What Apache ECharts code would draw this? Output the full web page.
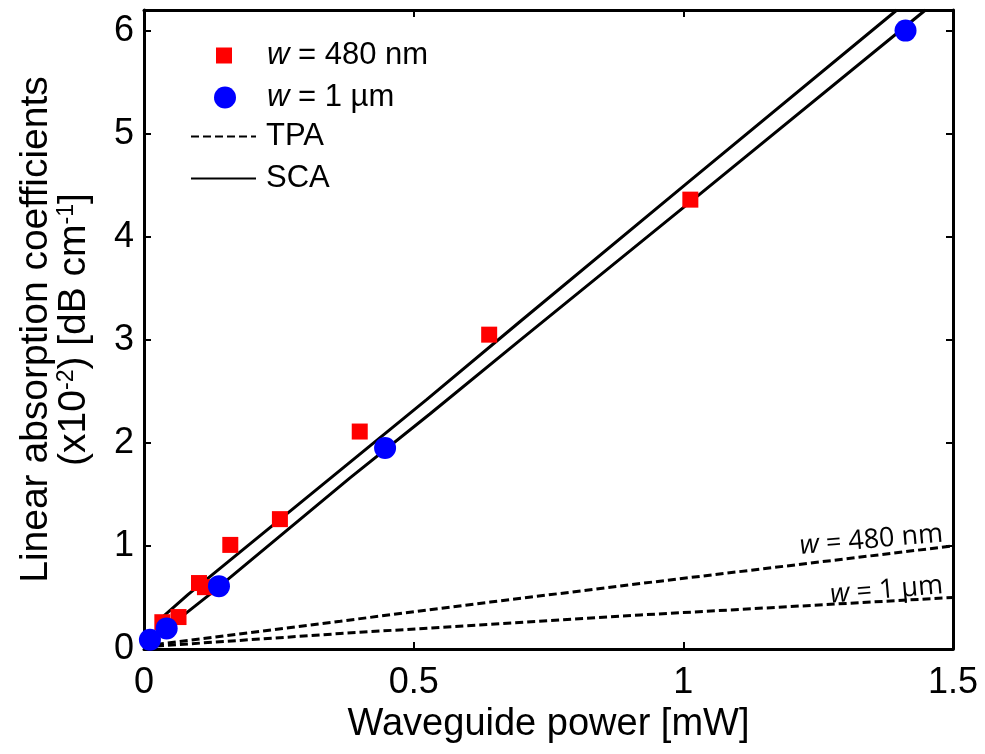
<!DOCTYPE html>
<html><head><meta charset="utf-8">
<script src="https://cdn.jsdelivr.net/npm/echarts@6/dist/echarts.min.js"></script>
<style>html,body{margin:0;padding:0;background:#fff}#c{width:985px;height:754px}</style>
</head><body><div id="c"></div>
<script>
// ---- data ----
const xTicks = ['0', '0.5', '1', '1.5'];
const yTicks = ['0', '1', '2', '3', '4', '5', '6'];

// measured points, w = 480 nm (red squares)
const x480 = [0.034, 0.064, 0.102, 0.113, 0.160, 0.252, 0.400, 0.640, 1.013];
const y480 = [0.26, 0.31, 0.64, 0.60, 1.01, 1.26, 2.11, 3.05, 4.36];
// measured points, w = 1 um (blue circles)
const x1um = [0.011, 0.042, 0.139, 0.447, 1.412];
const y1um = [0.09, 0.20, 0.61, 1.95, 6.00];

// SCA fits (solid)
const scaX480 = [0.030, 0.082, 0.351, 0.524, 0.698, 1.007, 1.396];
const scaY480 = [0.29, 0.53, 1.68, 2.42, 3.18, 4.52, 6.20];
const scaX1um = [0.040, 0.122, 0.382, 0.530, 0.698, 1.025, 1.449];
const scaY1um = [0.19, 0.53, 1.66, 2.28, 3.00, 4.39, 6.20];

// TPA (dashed)
const tpaX = [0, 0.364, 0.642, 0.920, 1.500];
const tpaY480 = [0.03, 0.27, 0.455, 0.635, 1.00];
const tpaY1um = [0.02, 0.15, 0.24, 0.33, 0.50];

const FONT = '"Liberation Sans", Arial, Helvetica, sans-serif';
const pairs = (xs, ys) => xs.map((x, i) => [x, ys[i]]);
const last = a => a[a.length - 1];

const axisLine = { show: true, onZero: false, lineStyle: { color: '#000', width: 3 } };
const axisTick = { show: true, inside: true, length: 7, lineStyle: { color: '#000', width: 2 } };

const LF = 31;
const legendRich = {
  i: { fontStyle: 'italic', fontSize: LF, fontFamily: FONT, color: '#000' },
  n: { fontSize: LF, fontFamily: FONT, color: '#000' }
};
const legendNames = {
  w480: '{i|w}{n| = 480 nm}',
  w1um: '{i|w}{n| = 1 µm}',
  TPA: '{n|TPA}',
  SCA: '{n|SCA}'
};
function mkLegend(name, left, top, w, h, pad, hideSymbol) {
  const lg = {
    data: [name], left: left, top: top, itemWidth: w, itemHeight: h,
    padding: 0, selectedMode: false, orient: 'vertical',
    formatter: n => legendNames[n],
    textStyle: { fontSize: LF, lineHeight: 30, fontFamily: FONT, color: '#000', padding: [0, 0, 0, pad], rich: legendRich }
  };
  if (hideSymbol) lg.itemStyle = { opacity: 0 };
  return lg;
}

const labelFont = '"Open Sans", "Noto Sans", sans-serif';
const TL = 27;
function tpaLabel(text, y) {
  return {
    symbol: 'circle', symbolSize: 0, silent: true, animation: false,
    data: [{ coord: [last(tpaX), y] }],
    label: {
      show: true, position: 'left', align: 'right', verticalAlign: 'bottom',
      offset: [-4, 1], rotate: 5,
      formatter: text,
      fontSize: TL, fontFamily: labelFont, color: '#000',
      rich: { i: { fontStyle: 'italic', fontSize: TL, fontFamily: labelFont, color: '#000' },
              n: { fontSize: TL, fontFamily: labelFont, color: '#000' } }
    }
  };
}

const chart = echarts.init(document.getElementById('c'), null, { renderer: 'canvas' });
chart.setOption({
  animation: false,
  backgroundColor: '#fff',
  color: ['#000'],
  grid: { left: 144, right: 32, top: 10, bottom: 105, containLabel: false },
  legend: [
    mkLegend('w480', 216, 40, 16, 16, 30, false),
    mkLegend('w1um', 214, 82, 22, 22, 26, false),
    mkLegend('TPA', 190, 121, 65, 14, 5, true),
    mkLegend('SCA', 190, 163, 65, 14, 5, true)
  ],
  xAxis: [
    {
      type: 'value', min: 0, max: 1.5, interval: 0.5, position: 'bottom',
      axisLine: axisLine, axisTick: axisTick, splitLine: { show: false },
      axisLabel: { fontSize: 36, fontFamily: FONT, color: '#000', margin: 16,
        formatter: v => xTicks[Math.round(v / 0.5)] ?? '' },
      name: 'Waveguide power [mW]', nameLocation: 'middle', nameGap: 54,
      nameTextStyle: { fontSize: 38, fontFamily: FONT, color: '#000' }
    },
    {
      type: 'value', min: 0, max: 1.5, interval: 0.5, position: 'top',
      axisLine: axisLine, axisTick: axisTick, splitLine: { show: false },
      axisLabel: { show: false }
    }
  ],
  yAxis: [
    {
      type: 'value', min: 0, max: 6.2, interval: 1, position: 'left',
      axisLine: axisLine, axisTick: axisTick, splitLine: { show: false },
      axisLabel: { fontSize: 36, fontFamily: FONT, color: '#000', margin: 10, showMaxLabel: false,
        formatter: v => (Number.isInteger(v) ? (yTicks[v] ?? '') : '') },
      name: '{a|Linear absorption coefficients}\n{a|(x10}{s|-2}{a|) [dB cm}{s|-1}{a|]}',
      nameLocation: 'middle', nameGap: 51,
      nameTextStyle: {
        fontSize: 39, fontFamily: FONT, color: '#000', lineHeight: 38,
        rich: {
          a: { fontSize: 39, fontFamily: FONT, color: '#000', lineHeight: 38 },
          s: { fontSize: 23, fontFamily: FONT, color: '#000', lineHeight: 38, verticalAlign: 'top', padding: [0, 0, 10, 0] }
        }
      }
    },
    {
      type: 'value', min: 0, max: 6.2, interval: 1, position: 'right',
      axisLine: axisLine, axisTick: axisTick, splitLine: { show: false },
      axisLabel: { show: false }
    }
  ],
  series: [
    {
      name: 'TPA', type: 'line', symbol: 'none', z: 2,
      data: pairs(tpaX, tpaY480),
      itemStyle: { color: '#000' },
      lineStyle: { color: '#000', width: 3, type: [8, 4] },
      markPoint: tpaLabel('{i|w}{n| = 480 nm}', last(tpaY480))
    },
    {
      name: 'TPA', type: 'line', symbol: 'none', z: 2,
      data: pairs(tpaX, tpaY1um),
      itemStyle: { color: '#000' },
      lineStyle: { color: '#000', width: 3, type: [8, 4] },
      markPoint: tpaLabel('{i|w}{n| = 1 µm}', last(tpaY1um))
    },
    {
      name: 'SCA', type: 'line', symbol: 'none', z: 2,
      data: pairs(scaX480, scaY480),
      itemStyle: { color: '#000' },
      lineStyle: { color: '#000', width: 3, type: 'solid' }
    },
    {
      name: 'SCA', type: 'line', symbol: 'none', z: 2,
      data: pairs(scaX1um, scaY1um),
      itemStyle: { color: '#000' },
      lineStyle: { color: '#000', width: 3, type: 'solid' }
    },
    {
      name: 'w480', type: 'scatter', symbol: 'rect', symbolSize: 16, z: 3,
      itemStyle: { color: '#ff0000', opacity: 1 },
      data: pairs(x480, y480)
    },
    {
      name: 'w1um', type: 'scatter', symbol: 'circle', symbolSize: 22, z: 4,
      itemStyle: { color: '#0000ff', opacity: 1 },
      data: pairs(x1um, y1um)
    }
  ]
});
</script>
</body></html>
